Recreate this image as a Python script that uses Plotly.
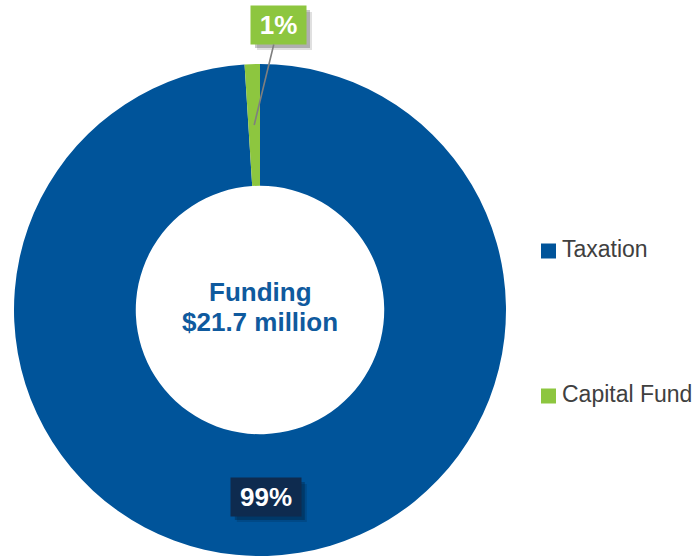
import math
import plotly.graph_objects as go

# ---- data ----
categories = ["Taxation", "Capital Fund"]
values = [99, 1]
colors = ["#00549A", "#8DC63F"]
label_bg = ["#0E2B4F", "#8DC63F"]
center_title = ["Funding", "$21.7 million"]

W, H = 699, 556
cx, cy, R = 260, 310, 246
HOLE = 0.505


def px(x):
    return x / W


def py(y):
    return 1 - y / H


fig = go.Figure()
fig.add_trace(go.Pie(
    labels=categories, values=values,
    marker=dict(colors=colors, line=dict(width=0)),
    hole=HOLE, sort=False, direction="clockwise", rotation=0,
    textinfo="none", textposition="none", hoverinfo="label+percent", showlegend=False,
    domain=dict(x=[px(cx - R), px(cx + R)], y=[py(cy + R), py(cy - R)]),
))

# legend drawn as marker + text traces on a hidden full-page axis pair
legend_x = 548.5
legend_text_x = 562
legend_y = [251, 396]
fig.add_trace(go.Scatter(
    x=[legend_x] * len(categories), y=[H - v for v in legend_y],
    mode="markers",
    marker=dict(symbol="square", size=15, color=colors, line=dict(width=0)),
    cliponaxis=False, hoverinfo="skip", showlegend=False,
))
fig.add_trace(go.Scatter(
    x=[legend_text_x] * len(categories), y=[H - v for v in legend_y],
    mode="text", text=categories, textposition="middle right",
    textfont=dict(family="Liberation Sans, Arial", size=23, color="#404040"),
    cliponaxis=False, hoverinfo="skip", showlegend=False,
))

total = sum(values)
annotations = []
shapes = []
cum = 0
r_mid = R * (1 + HOLE) / 2
for i, v in enumerate(values):
    frac_mid = (cum + v / 2) / total
    cum += v
    th = 2 * math.pi * frac_mid
    sx = cx + r_mid * math.sin(th)
    sy = cy - r_mid * math.cos(th)
    txt = f"<b>{v / total * 100:.0f}%</b>"
    font = dict(size=26, color="white", family="Liberation Sans, Arial")
    if i == 0:
        bw, bh = 70, 38
        bx, by = sx, sy + 2
        annotations.append(dict(x=px(bx), y=py(by), xref="paper", yref="paper",
                                xanchor="center", yanchor="middle",
                                text=txt, showarrow=False, width=bw, height=bh,
                                borderpad=0, bgcolor=label_bg[i], font=font))
    else:
        bw, bh = 55, 38
        bx, by = 278.5, 25
        annotations.append(dict(x=px(sx), y=py(sy), xref="paper", yref="paper",
                                ax=bx - sx, ay=by - sy, axref="pixel", ayref="pixel",
                                text=txt, width=bw, height=bh, borderpad=0,
                                showarrow=True, arrowhead=0, arrowcolor="#7F7F7F",
                                arrowwidth=1.6, bgcolor=label_bg[i], font=font))
    # soft drop shadow behind each label box
    for off, alpha in ((6, 0.12), (4, 0.22)):
        shapes.append(dict(
            type="rect", xref="paper", yref="paper", layer="above",
            x0=px(bx - bw / 2 + off), x1=px(bx + bw / 2 + off),
            y0=py(by + bh / 2 + off), y1=py(by - bh / 2 + off),
            fillcolor=f"rgba(0,0,0,{alpha})", line=dict(width=0),
        ))

center_y = [cy - 18, cy + 12]
for t, yy in zip(center_title, center_y):
    annotations.append(dict(
        x=px(cx), y=py(yy), xref="paper", yref="paper", showarrow=False,
        xanchor="center", yanchor="middle", text=f"<b>{t}</b>",
        font=dict(size=26, color="#0F5A9E", family="Liberation Sans, Arial"),
    ))

fig.update_layout(
    width=W, height=H,
    margin=dict(l=0, r=0, t=0, b=0),
    paper_bgcolor="white", plot_bgcolor="rgba(0,0,0,0)",
    xaxis=dict(visible=False, range=[0, W], domain=[0, 1], fixedrange=True),
    yaxis=dict(visible=False, range=[0, H], domain=[0, 1], fixedrange=True),
    showlegend=False,
    annotations=annotations,
    shapes=shapes,
)

fig.write_html(
    "out.html",
    config={"displayModeBar": False},
    post_script="document.body.style.margin='0';document.body.style.overflow='hidden';",
)
